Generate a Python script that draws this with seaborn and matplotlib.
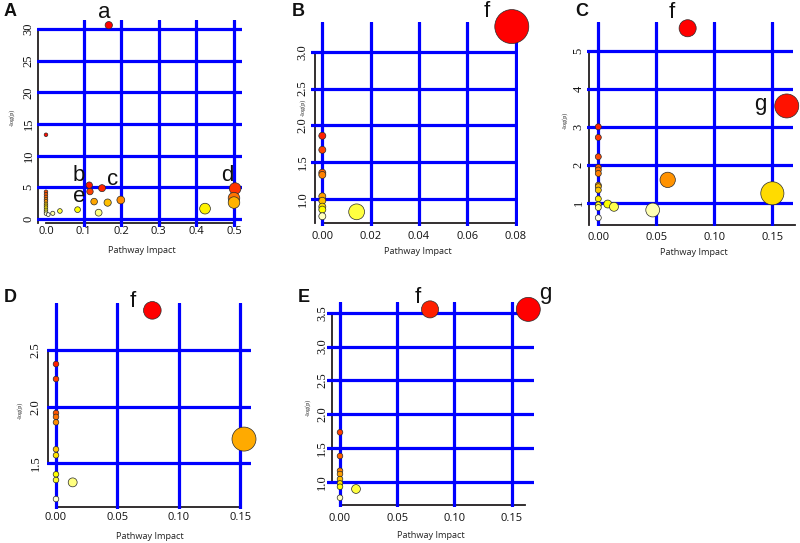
import colorsys
import numpy as np
import pandas as pd
import matplotlib
matplotlib.use("Agg")
import matplotlib.pyplot as plt
import seaborn as sns

sns.set_theme(style="white")
plt.rcParams['font.family'] = ['Open Sans', 'DejaVu Sans']

# ---------------- data (pathway impact, -log(p)) ----------------
A_impact = [0.167, 0.0, 0.115, 0.149, 0.503, 0.117, 0.0, 0.0, 0.0, 0.0, 0.0, 0.0, 0.0, 0.0,
            0.0, 0.0, 0.0, 0.500, 0.199, 0.128, 0.500, 0.164, 0.423, 0.084, 0.037, 0.140,
            0.018, 0.006]
A_logp = [30.6, 13.3, 5.35, 4.87, 4.81, 4.33, 4.3, 3.9, 3.5, 3.1, 2.8, 2.4, 2.1, 1.8,
          1.45, 1.15, 0.85, 3.3, 3.0, 2.75, 2.6, 2.59, 1.64, 1.48, 1.27, 1.0, 0.9, 0.7]
A_names = {0: "a", 2: "b", 3: "c", 4: "d", 5: "e"}

B_impact = [0.0784, 0.0, 0.0, 0.0, 0.0, 0.0, 0.0, 0.0, 0.0, 0.0142, 0.0]
B_logp = [3.34, 1.86, 1.67, 1.36, 1.33, 1.04, 0.98, 0.90, 0.86, 0.83, 0.77]
B_names = {0: "f"}

C_impact = [0.077, 0.1624, 0.0, 0.0, 0.0, 0.0, 0.0, 0.0, 0.0598, 0.0, 0.0, 0.0, 0.150,
            0.0, 0.0081, 0.0, 0.0135, 0.0, 0.0469, 0.0]
C_logp = [5.6, 3.55, 3.0, 2.72, 2.21, 1.93, 1.86, 1.77, 1.60, 1.46, 1.42, 1.33, 1.245,
          1.10, 0.963, 0.94, 0.89, 0.87, 0.805, 0.60]
C_names = {0: "f", 1: "g"}

D_impact = [0.0785, 0.0, 0.0, 0.0, 0.0, 0.0, 0.1532, 0.0, 0.0, 0.0, 0.0, 0.0136, 0.0]
D_logp = [2.85, 2.376, 2.244, 1.944, 1.91, 1.862, 1.714, 1.624, 1.571, 1.403, 1.353,
          1.332, 1.185]
D_names = {0: "f"}

E_impact = [0.1646, 0.0787, 0.0, 0.0, 0.0, 0.0, 0.0, 0.0, 0.0, 0.014, 0.0]
E_logp = [3.55, 3.55, 1.734, 1.384, 1.167, 1.118, 1.044, 0.98, 0.93, 0.897, 0.768]
E_names = {0: "g", 1: "f"}

A_xticks = [0.0, 0.1, 0.2, 0.3, 0.4, 0.5]
A_xlabels = ["0.0", "0.1", "0.2", "0.3", "0.4", "0.5"]
A_yticks = [0, 5, 10, 15, 20, 25, 30]
B_xticks = [0.0, 0.02, 0.04, 0.06, 0.08]
B_xlabels = ["0.00", "0.02", "0.04", "0.06", "0.08"]
B_yticks = [1.0, 1.5, 2.0, 2.5, 3.0]
C_xticks = [0.0, 0.05, 0.10, 0.15]
C_xlabels = ["0.00", "0.05", "0.10", "0.15"]
C_yticks = [1, 2, 3, 4, 5]
D_yticks = [1.5, 2.0, 2.5]
E_yticks = [1.0, 1.5, 2.0, 2.5, 3.0, 3.5]


def heat_colors(n):
    """R's heat.colors(n)"""
    j = n // 4
    i = n - j
    cols = []
    for k in range(i):
        h = (1 / 6) * k / (i - 1) if i > 1 else 0
        cols.append(colorsys.hsv_to_rgb(h, 1, 1))
    if j > 0:
        for s in np.linspace(1 - 1 / (2 * j), 1 / (2 * j), j):
            cols.append(colorsys.hsv_to_rgb(1 / 6, s, 1))
    return cols


W, H = 800, 543
fig = plt.figure(figsize=(W / 100, H / 100), dpi=100)


def px_rect(l, r, t, b):
    return [l / W, 1 - b / H, (r - l) / W, (b - t) / H]


def panel(rect, impact, logp, names, xlim, ylim, xticks, xlabels, yticks, ylabels,
          lsp_x, lsp_b, bsp_y, bsp_b, sizes, xpad, ypad, offsets, hide_x0_grid=False):
    ax = fig.add_axes(rect)
    df = pd.DataFrame({"impact": impact, "logp": logp})
    df = df.sort_values("logp", ascending=False, kind="stable").reset_index(drop=True)
    df["rank"] = np.arange(len(df))
    cols = heat_colors(len(df))
    pal = {r: cols[r] for r in df["rank"]}
    sns.scatterplot(data=df, x="impact", y="logp", hue="rank", palette=pal,
                    size="impact", sizes=sizes, size_norm=(0, max(impact)),
                    edgecolor="#2a2a2a", linewidth=0.5, legend=False, ax=ax,
                    clip_on=False, zorder=3)
    ax.set_xlim(*xlim)
    ax.set_ylim(*ylim)
    # spines first (set_position resets ticks)
    for s in ("top", "right"):
        ax.spines[s].set_visible(False)
    ax.spines["left"].set_position(("data", lsp_x))
    ax.spines["left"].set_bounds(*lsp_b)
    ax.spines["bottom"].set_position(("data", bsp_y))
    ax.spines["bottom"].set_bounds(*bsp_b)
    for s in ("left", "bottom"):
        ax.spines[s].set_color("#231f20")
        ax.spines[s].set_linewidth(1.3)
        ax.spines[s].set_zorder(0.4)
    ax.set_xticks(xticks)
    ax.set_xticklabels(xlabels, fontsize=8, family=['Open Sans', 'DejaVu Sans'])
    ax.set_yticks(yticks)
    ax.set_yticklabels(ylabels, fontsize=9, rotation=90, va="center",
                       family=['Liberation Serif', 'DejaVu Serif'])
    ax.tick_params(axis="x", length=0, pad=xpad, colors="#111111")
    ax.tick_params(axis="y", length=0, pad=ypad, colors="#111111")
    ax.grid(True, color="#0000ff", linewidth=2.3)
    ax.set_axisbelow(True)
    if hide_x0_grid:
        ax.xaxis.get_major_ticks()[0].gridline.set_visible(False)
    ax.set_xlabel("")
    ax.set_ylabel("")
    ax.patch.set_alpha(0)
    for i, lab in names.items():
        dx, dy = offsets[lab]
        ax.annotate(lab, xy=(impact[i], logp[i]), xytext=(dx * 0.72, dy * 0.72),
                    textcoords="offset points", ha="center", va="center",
                    fontsize=16, family=['Liberation Sans', 'DejaVu Sans'],
                    color="#111111", annotation_clip=False, zorder=5)
    return ax


def s_of(r):  # marker area (pt^2) for radius in px
    return (1.44 * r) ** 2


panel(px_rect(37, 242, 20, 227), A_impact, A_logp, A_names,
      (-0.0239, 0.5213), (-1.26, 31.42), A_xticks, A_xlabels, A_yticks,
      [str(v) for v in A_yticks], -0.0213, (-0.63, 30), -0.63, (0, 0.5),
      (s_of(1.8), s_of(5.8)), 2.5, 2.5,
      {"a": (-5, 13), "b": (-10, 10), "c": (11, 9), "d": (-8, 13), "e": (-11, -5)},
      hide_x0_grid=True)

panel(px_rect(311, 518, 22, 226), B_impact, B_logp, B_names,
      (-0.00468, 0.08097), (0.638, 3.402), B_xticks, B_xlabels, B_yticks,
      ["1.0", "1.5", "2.0", "2.5", "3.0"], -0.00302, (0.675, 3.0), 0.675, (0, 0.08),
      (s_of(3.5), s_of(17)), 5.7, 4.6, {"f": (-25, 15)})

panel(px_rect(587, 793, 22, 226), C_impact, C_logp, C_names,
      (-0.00974, 0.1678), (0.383, 5.765), C_xticks, C_xlabels, C_yticks,
      [str(v) for v in C_yticks], -0.00776, (0.409, 5), 0.409, (0, 0.1696),
      (s_of(3), s_of(12)), 4.9, 3.5, {"f": (-16, 16), "g": (-26, 1)})

panel(px_rect(47, 251, 303, 509), D_impact, D_logp, D_names,
      (-0.00733, 0.1589), (1.097, 2.915), C_xticks, C_xlabels, D_yticks,
      ["1.5", "2.0", "2.5"], -0.00628, (1.5, 2.5), 1.112, (0, 0.15),
      (s_of(2.8), s_of(12)), 3.7, 4.6, {"f": (-20, 9)})

panel(px_rect(327, 534, 302, 507), E_impact, E_logp, E_names,
      (-0.01136, 0.1696), (0.631, 3.659), C_xticks, C_xlabels, E_yticks,
      ["1.0", "1.5", "2.0", "2.5", "3.0", "3.5"], -0.00673, (1.0, 3.5), 0.660,
      (0, 0.1617), (s_of(2.8), s_of(12)), 5.4, 2.8, {"f": (-12, 12), "g": (17, 16)})


def ftext(x, y, s, **kw):
    fig.text(x / W, 1 - y / H, s, ha="center", va="center", **kw)


# panel letters
for lab, (x, y) in {"A": (10, 12), "B": (298, 11), "C": (582, 12),
                    "D": (10, 297), "E": (304, 297)}.items():
    ftext(x, y, lab, fontsize=13, fontweight="bold",
          family=['Liberation Sans', 'DejaVu Sans'], color="#111111")

# axis titles
for (x, y) in [(141.7, 250.7), (417.5, 251.7), (693.8, 252.7), (149.7, 536.7), (430.5, 535)]:
    ftext(x, y, "Pathway Impact", fontsize=6.6, color="#222222")
for (x, y) in [(11.7, 117), (303, 107), (565, 120), (20, 410), (308, 407)]:
    ftext(x, y, "-log(p)", fontsize=4.5, rotation=90, color="#222222",
          family=['Liberation Serif', 'DejaVu Serif'])

fig.savefig("out.png", dpi=100, facecolor="white")
